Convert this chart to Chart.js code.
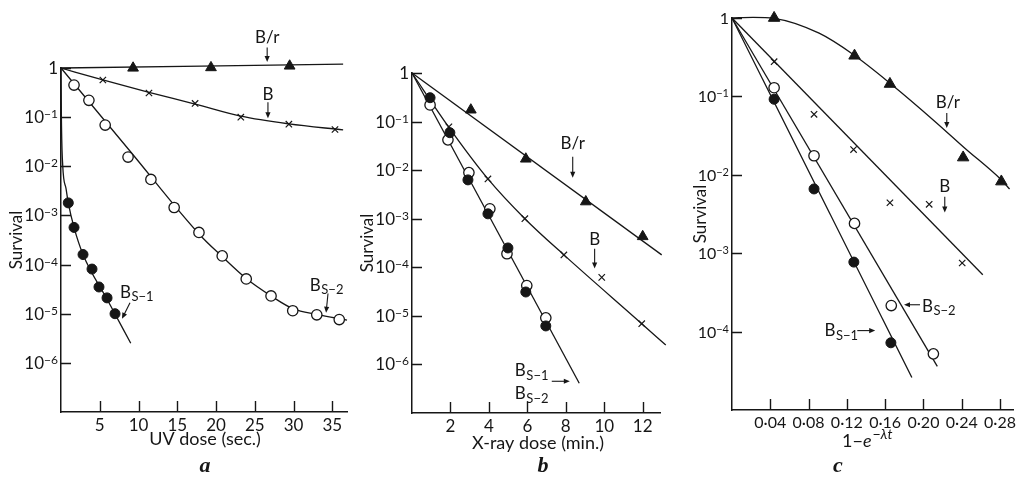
<!DOCTYPE html>
<html>
<head>
<meta charset="utf-8">
<script src="https://cdn.jsdelivr.net/npm/chart.js@4.4.1/dist/chart.umd.min.js"></script>
<style>
  html, body { margin: 0; padding: 0; background: #fff; }
  body { width: 1021px; height: 491px; position: relative; overflow: hidden; }
  canvas { position: absolute; top: 0; }
</style>
</head>
<body>
<canvas id="panelA" width="360" height="491" style="left:0px"></canvas>
<canvas id="panelB" width="330" height="491" style="left:360px"></canvas>
<canvas id="panelC" width="331" height="491" style="left:690px"></canvas>
<script>
// ---------- survival decades ----------
const survDecadesAB = [1, 1e-1, 1e-2, 1e-3, 1e-4, 1e-5, 1e-6];
const survDecadesC = [1, 1e-1, 1e-2, 1e-3, 1e-4];

// ---------- panel a: UV dose (sec.) ----------
const uvTicks = [5, 10, 15, 20, 25, 30, 35];

const uvBrDose = [9.3, 19.35, 29.5];
const uvBrSurv = [1.0, 1.02, 1.1];
const uvBrFitDose = [0, 36.4];
const uvBrFitSurv = [1.0, 1.2];

const uvBDose = [5.4, 11.35, 17.3, 23.2, 29.4, 35.35];
const uvBSurv = [0.57, 0.31, 0.19, 0.1, 0.072, 0.056];
const uvBFitDose = [0, 5.4, 11.35, 17.3, 23.2, 29.4, 36.4];
const uvBFitSurv = [1, 0.57, 0.32, 0.185, 0.105, 0.073, 0.055];

const uvBs2Dose = [1.68, 3.6, 5.7, 8.65, 11.6, 14.6, 17.8, 20.8, 23.9, 27.1, 29.9, 33.0, 35.9];
const uvBs2Surv = [0.45, 0.22, 0.069, 0.0154, 0.0054, 1.45e-3, 4.5e-4, 1.5e-4, 5.1e-5, 2.3e-5, 1.15e-5, 9.5e-6, 7.6e-6];
const uvBs2FitDose = [0, 9, 17.8, 20.8, 23.9, 27.1, 30, 33, 36.9];
const uvBs2FitSurv = [1, 0.0195, 4.2e-4, 1.45e-4, 5.2e-5, 2.3e-5, 1.25e-5, 9.7e-6, 7.4e-6];

const uvBs1Dose = [0.94, 1.68, 2.84, 4.0, 4.9, 5.94, 6.97];
const uvBs1Surv = [1.8e-3, 5.7e-4, 1.6e-4, 8.1e-5, 3.5e-5, 2.1e-5, 1e-5];
const uvBs1FitDose = [0, 0.05, 0.22, 0.65, 0.94, 1.68, 2.84, 6.0, 9.0];
const uvBs1FitSurv = [1, 0.1, 0.0105, 3.5e-3, 1.8e-3, 5.7e-4, 1.6e-4, 1.9e-5, 2.5e-6];

// ---------- panel b: X-ray dose (min.) ----------
const xrTicks = [2, 4, 6, 8, 10, 12];

const xrBrDose = [3.06, 5.92, 9.04, 12.0];
const xrBrSurv = [0.174, 0.017, 2.24e-3, 4.3e-4];
const xrBrFitDose = [0, 12.99];
const xrBrFitSurv = [1, 1.8e-4];

const xrBDose = [1.92, 3.95, 5.87, 7.9, 9.87, 11.95];
const xrBSurv = [0.078, 6.6e-3, 1e-3, 1.8e-4, 6.2e-5, 6.9e-6];
const xrBFitDose = [0, 1.92, 3.95, 5.87, 7.9, 11.95, 13.2];
const xrBFitSurv = [1, 0.076, 6.6e-3, 1.0e-3, 1.8e-4, 6.9e-6, 2.5e-6];

const xrBs2Dose = [0.94, 1.87, 2.96, 4.05, 4.94, 5.97, 6.96];
const xrBs2Surv = [0.22, 0.042, 8.9e-3, 1.6e-3, 1.9e-4, 4.2e-5, 9.1e-6];
const xrBs1Dose = [0.94, 1.97, 2.91, 3.95, 4.99, 5.92, 6.96];
const xrBs1Surv = [0.31, 0.059, 6.3e-3, 1.26e-3, 2.5e-4, 3.1e-5, 6.2e-6];
const xrBsFitDose = [0, 8.7];
const xrBsFitSurv = [1, 4.1e-7];

// ---------- panel c: 1 - e^(-λt) ----------
const lamTicks = [0.04, 0.08, 0.12, 0.16, 0.20, 0.24, 0.28];

const lamBrX = [0.044, 0.128, 0.165, 0.2415, 0.2814];
const lamBrSurv = [1.0, 0.33, 0.144, 0.0166, 0.0082];
const lamBrFitX = [0, 0.022, 0.044, 0.091, 0.127, 0.167, 0.212, 0.243, 0.281, 0.29];
const lamBrFitSurv = [1, 1.02, 0.99, 0.64, 0.34, 0.141, 0.048, 0.022, 0.0087, 0.0066];

const lamBX = [0.044, 0.0857, 0.127, 0.165, 0.206, 0.2405];
const lamBSurv = [0.277, 0.059, 0.021, 4.4e-3, 4.2e-3, 7.5e-4];
const lamBFitX = [0, 0.262];
const lamBFitSurv = [1, 5.3e-4];

const lamBs2X = [0.044, 0.0857, 0.128, 0.1664, 0.2104];
const lamBs2Surv = [0.129, 0.0175, 2.4e-3, 2.15e-4, 5.2e-5];
const lamBs2FitX = [0, 0.2145];
const lamBs2FitSurv = [1, 3.6e-5];

const lamBs1X = [0.044, 0.0857, 0.1273, 0.166];
const lamBs1Surv = [0.092, 6.6e-3, 7.7e-4, 7.2e-5];
const lamBs1FitX = [0, 0.1879];
const lamBs1FitSurv = [1, 2.6e-5];

// ---------- styling ----------
const INK = '#161616';
const FONT = 'Lato, "Open Sans", "DejaVu Sans", sans-serif';
const SERIF = '"Liberation Serif", "DejaVu Serif", serif';

const pts = (xs, ys) => xs.map((x, i) => ({ x, y: ys[i] }));
const fitLine = (xs, ys) => ({
  data: pts(xs, ys), showLine: true, pointRadius: 0, pointHoverRadius: 0,
  borderColor: INK, borderWidth: 1.3, cubicInterpolationMode: 'monotone',
  clip: false, order: 1
});
const marks = (xs, ys, style) => ({
  data: pts(xs, ys), showLine: false, clip: false, order: 0, pointHoverRadius: 0, ...style
});
const TRI = { pointStyle: 'triangle', pointRadius: 6.2, pointBackgroundColor: INK, pointBorderColor: INK, pointBorderWidth: 1 };
const OPEN = { pointStyle: 'circle', pointRadius: 5.2, pointBackgroundColor: '#fff', pointBorderColor: INK, pointBorderWidth: 1.3 };
const DOT = { pointStyle: 'circle', pointRadius: 5, pointBackgroundColor: INK, pointBorderColor: INK, pointBorderWidth: 1 };
const CROSS = { pointStyle: 'crossRot', pointRadius: 4.5, pointBackgroundColor: INK, pointBorderColor: INK, pointBorderWidth: 1.2 };

// ---------- drawing helpers ----------
function arrow(ctx, x1, y1, x2, y2) {
  const a = Math.atan2(y2 - y1, x2 - x1), L = 6, W = 2.6;
  ctx.lineWidth = 1.1;
  ctx.beginPath(); ctx.moveTo(x1, y1);
  ctx.lineTo(x2 - Math.cos(a) * (L - 1), y2 - Math.sin(a) * (L - 1)); ctx.stroke();
  ctx.beginPath();
  ctx.moveTo(x2, y2);
  ctx.lineTo(x2 - Math.cos(a) * L - Math.sin(a) * W, y2 - Math.sin(a) * L + Math.cos(a) * W);
  ctx.lineTo(x2 - Math.cos(a) * L + Math.sin(a) * W, y2 - Math.sin(a) * L - Math.cos(a) * W);
  ctx.closePath(); ctx.fill();
}

// tick marks pointing inward, decade labels, titles and strain labels
const decor = {
  id: 'decor',
  afterDraw(chart, _args, o) {
    const { ctx, chartArea: { left, right, top, bottom }, scales: { x, y } } = chart;
    ctx.save();
    ctx.strokeStyle = INK; ctx.fillStyle = INK;

    ctx.lineWidth = 1.4;
    ctx.beginPath();
    x.ticks.forEach(t => {
      const px = Math.round(x.getPixelForValue(t.value)) + 0.5;
      ctx.moveTo(px, bottom); ctx.lineTo(px, bottom - 11);
    });
    y.ticks.forEach(t => {
      const py = Math.round(y.getPixelForValue(t.value)) + 0.5;
      ctx.moveTo(left, py); ctx.lineTo(left + 10, py);
    });
    ctx.stroke();

    // decade labels: 1, 10^-1, 10^-2 ...
    ctx.textAlign = 'left'; ctx.textBaseline = 'alphabetic';
    y.ticks.forEach(t => {
      const py = y.getPixelForValue(t.value);
      const e = Math.round(Math.log10(t.value));
      const base = e === 0 ? '1' : '10';
      const sup = e === 0 ? '' : '\u2212' + (-e);
      ctx.font = `${o.tick}px ${FONT}`;
      const wb = ctx.measureText(base).width;
      ctx.font = `${o.tick - 5}px ${FONT}`;
      const ws = sup ? ctx.measureText(sup).width : 0;
      const x0 = left - 3 - wb - ws;
      ctx.font = `${o.tick}px ${FONT}`;
      ctx.fillText(base, x0, py + 6);
      if (sup) { ctx.font = `${o.tick - 5}px ${FONT}`; ctx.fillText(sup, x0 + wb, py + 1); }
    });

    // vertical axis title
    ctx.save();
    ctx.translate(o.yTitleX, (top + bottom) / 2);
    ctx.rotate(-Math.PI / 2);
    ctx.font = `17px ${FONT}`; ctx.textAlign = 'center'; ctx.textBaseline = 'middle';
    ctx.fillText('Survival', 0, 0);
    ctx.restore();

    // horizontal axis title
    ctx.textBaseline = 'alphabetic';
    if (o.xTitle.parts) {
      let cx = o.xTitle.x;
      o.xTitle.parts.forEach(p => {
        ctx.font = `${p.style || ''} ${p.size}px ${FONT}`;
        ctx.textAlign = 'left';
        ctx.fillText(p.text, cx, o.xTitle.y + (p.rise || 0));
        cx += ctx.measureText(p.text).width + (p.gap || 0);
      });
    } else {
      ctx.font = `18px ${FONT}`; ctx.textAlign = 'center';
      ctx.fillText(o.xTitle.text, o.xTitle.x, o.xTitle.y);
    }

    // panel letter
    ctx.font = `italic bold 22px ${SERIF}`; ctx.textAlign = 'center';
    ctx.fillText(o.letter.text, o.letter.x, o.letter.y);

    // strain labels
    o.notes.forEach(n => {
      const px = x.getPixelForValue(n.x), py = y.getPixelForValue(n.y);
      if (n.sub) {
        ctx.textAlign = 'left'; ctx.textBaseline = 'alphabetic';
        ctx.font = `17px ${FONT}`;
        ctx.fillText('B', px, py);
        const wb = ctx.measureText('B').width;
        ctx.font = `13px ${FONT}`;
        ctx.fillText(n.sub, px + wb + 0.5, py + 3.5);
      } else {
        ctx.textAlign = 'center'; ctx.textBaseline = 'middle';
        ctx.font = `17px ${FONT}`;
        ctx.fillText(n.text, px, py);
      }
    });
    o.arrows.forEach(a => {
      arrow(ctx, x.getPixelForValue(a[0]), y.getPixelForValue(a[1]),
                 x.getPixelForValue(a[2]), y.getPixelForValue(a[3]));
    });
    ctx.restore();
  }
};

function panel(id, c) {
  return new Chart(document.getElementById(id), {
    type: 'scatter',
    data: { datasets: c.datasets },
    options: {
      responsive: false, animation: false, events: [],
      layout: { padding: c.padding },
      plugins: { legend: { display: false }, tooltip: { enabled: false }, decor: c.decor },
      scales: {
        x: {
          type: 'linear', min: 0, max: c.xMax,
          grid: { display: false, drawTicks: false },
          border: { color: INK, width: 1.5 },
          ticks: { color: INK, font: { family: FONT, size: c.tickSize }, padding: 3, maxRotation: 0, autoSkip: false, callback: c.xFmt },
          afterBuildTicks: s => { s.ticks = c.xTicks.map(v => ({ value: v })); },
          afterFit: s => { s.height = 40; }
        },
        y: {
          type: 'logarithmic', min: c.yMin, max: 1,
          grid: { display: false, drawTicks: false },
          border: { color: INK, width: 1.5 },
          ticks: { display: false },
          afterBuildTicks: s => { s.ticks = c.yTicks.map(v => ({ value: v })); },
          afterFit: s => { s.width = c.yWidth; }
        }
      }
    },
    plugins: [decor]
  });
}

// ---------- a ----------
panel('panelA', {
  padding: { left: 0, right: 13, top: 68, bottom: 39 },
  yWidth: 61, xMax: 36.9, yMin: 1e-7, xTicks: uvTicks, yTicks: survDecadesAB, tickSize: 17,
  xFmt: v => String(v),
  datasets: [
    marks(uvBrDose, uvBrSurv, TRI),
    marks(uvBDose, uvBSurv, CROSS),
    marks(uvBs2Dose, uvBs2Surv, OPEN),
    marks(uvBs1Dose, uvBs1Surv, DOT),
    fitLine(uvBrFitDose, uvBrFitSurv),
    fitLine(uvBFitDose, uvBFitSurv),
    fitLine(uvBs2FitDose, uvBs2FitSurv),
    fitLine(uvBs1FitDose, uvBs1FitSurv)
  ],
  decor: {
    tick: 17, yTitleX: 17,
    xTitle: { text: 'UV dose (sec.)', x: 205, y: 445 },
    letter: { text: 'a', x: 205, y: 472 },
    notes: [
      { text: 'B/r', x: 26.6, y: 4.1 },
      { text: 'B', x: 26.7, y: 0.295 },
      { sub: 'S\u22121', x: 7.6, y: 2.1e-5 },
      { sub: 'S\u22122', x: 32.1, y: 2.95e-5 }
    ],
    arrows: [
      [26.6, 2.6, 26.6, 1.33],
      [26.7, 0.2, 26.7, 0.0955],
      [8.9, 1.67e-5, 7.87, 7.9e-6],
      [34.45, 2.57e-5, 34.2, 1.05e-5]
    ]
  }
});

// ---------- b ----------
panel('panelB', {
  padding: { left: 0, right: 30, top: 73, bottom: 38 },
  yWidth: 52, xMax: 12.9, yMin: 1e-7, xTicks: xrTicks, yTicks: survDecadesAB, tickSize: 17,
  xFmt: v => String(v),
  datasets: [
    marks(xrBrDose, xrBrSurv, TRI),
    marks(xrBDose, xrBSurv, CROSS),
    marks(xrBs1Dose, xrBs1Surv, DOT),
    marks(xrBs2Dose, xrBs2Surv, OPEN),
    fitLine(xrBrFitDose, xrBrFitSurv),
    fitLine(xrBFitDose, xrBFitSurv),
    fitLine(xrBsFitDose, xrBsFitSurv)
  ],
  decor: {
    tick: 17, yTitleX: 8,
    xTitle: { text: 'X-ray dose (min.)', x: 178, y: 449 },
    letter: { text: 'b', x: 183, y: 472 },
    notes: [
      { text: 'B/r', x: 8.36, y: 0.035 },
      { text: 'B', x: 9.5, y: 3.7e-4 },
      { sub: 'S\u22121', x: 5.35, y: 5.7e-7 },
      { sub: 'S\u22122', x: 5.35, y: 1.9e-7 }
    ],
    arrows: [
      [8.36, 0.0188, 8.36, 6.96e-3],
      [9.5, 2.42e-4, 9.5, 9.4e-5],
      [7.27, 4.5e-7, 8.21, 4.5e-7]
    ]
  }
});

// ---------- c ----------
panel('panelC', {
  padding: { left: 0, right: 6, top: 18, bottom: 41 },
  yWidth: 42, xMax: 0.294, yMin: 1e-5, xTicks: lamTicks, yTicks: survDecadesC, tickSize: 16,
  xFmt: v => v.toFixed(2).replace('.', '\u00B7'),
  datasets: [
    marks(lamBrX, lamBrSurv, { ...TRI, pointRadius: 6.6 }),
    marks(lamBX, lamBSurv, CROSS),
    marks(lamBs2X, lamBs2Surv, OPEN),
    marks(lamBs1X, lamBs1Surv, DOT),
    fitLine(lamBrFitX, lamBrFitSurv),
    fitLine(lamBFitX, lamBFitSurv),
    fitLine(lamBs2FitX, lamBs2FitSurv),
    fitLine(lamBs1FitX, lamBs1FitSurv)
  ],
  decor: {
    tick: 16, yTitleX: 11,
    xTitle: { x: 152, y: 447, parts: [
      { text: '1\u2212', size: 18 },
      { text: 'e', size: 18, style: 'italic', gap: 1 },
      { text: '\u2212\u03BBt', size: 14, style: 'italic', rise: -8 }
    ] },
    letter: { text: 'c', x: 148, y: 472 },
    notes: [
      { text: 'B/r', x: 0.2255, y: 0.0826 },
      { text: 'B', x: 0.2223, y: 7.0e-3 },
      { sub: 'S\u22122', x: 0.1984, y: 1.8e-4 },
      { sub: 'S\u22121', x: 0.0966, y: 8.7e-5 }
    ],
    arrows: [
      [0.2244, 0.0616, 0.2244, 0.0396],
      [0.2223, 5.25e-3, 0.2223, 3.3e-3],
      [0.1964, 2.2e-4, 0.1797, 2.2e-4],
      [0.1309, 1.03e-4, 0.1496, 1.03e-4]
    ]
  }
});
</script>
</body>
</html>
